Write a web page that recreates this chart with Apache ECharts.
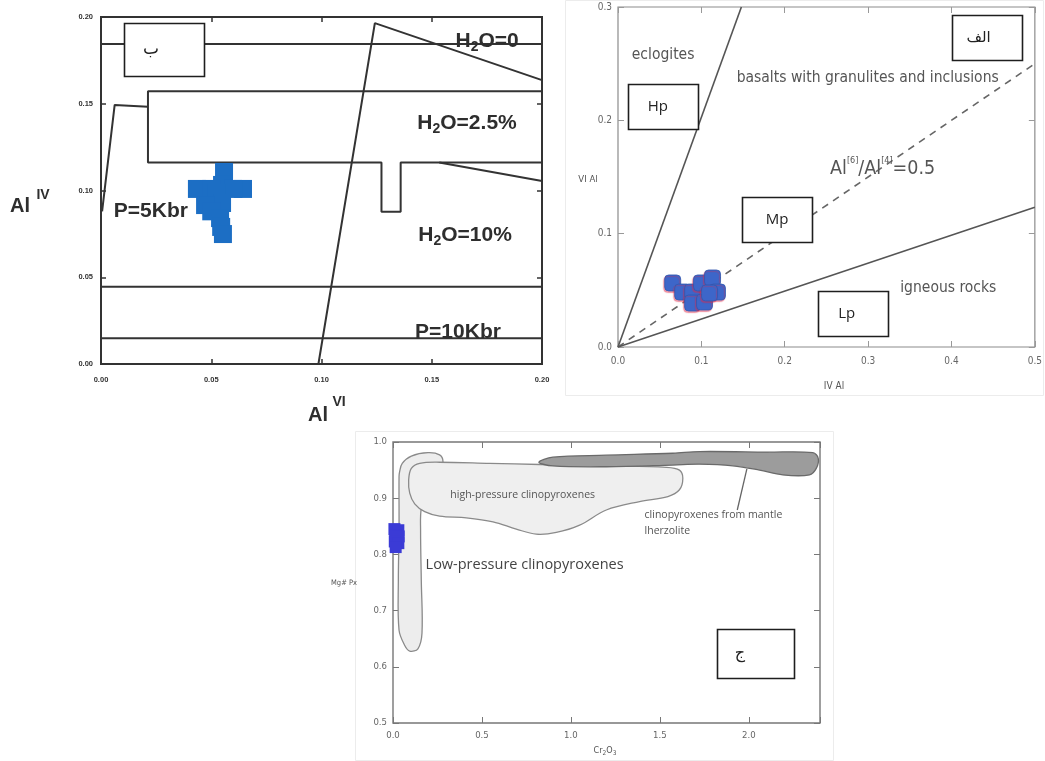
<!DOCTYPE html>
<html>
<head>
<meta charset="utf-8">
<script src="https://cdn.jsdelivr.net/npm/echarts@6/dist/echarts.min.js"></script>
<style>
  html, body { margin: 0; padding: 0; background: #fff; }
  #chart { width: 1045px; height: 761px; }
</style>
</head>
<body>
<div id="chart"></div>
<script>
// ---------- Panel ب : Al(IV) against Al(VI) ----------
const bTickLabels = ['0.00', '0.05', '0.10', '0.15', '0.20'];
const bSamples = [
  [0.0558, 0.1107], [0.0549, 0.1032], [0.0435, 0.1009], [0.0644, 0.1009],
  [0.0500, 0.1009], [0.0600, 0.1009], [0.0522, 0.0986], [0.0549, 0.0928],
  [0.0472, 0.0916], [0.0500, 0.0880], [0.0540, 0.0841], [0.0545, 0.0790],
  [0.0553, 0.0749]
];
const bLineH2O0 = [[0, 0.1845], [0.2, 0.1845]];
const bLineWedge = [[0.0986, 0], [0.1242, 0.1965], [0.2, 0.1636]];
const bLineBox25 = [[0.2, 0.1572], [0.0213, 0.1572], [0.0213, 0.1162], [0.1272, 0.1162],
  [0.1272, 0.0878], [0.1359, 0.0878], [0.1359, 0.1162], [0.2, 0.1162]];
const bLineLeft = [[0.0005, 0.088], [0.0062, 0.1493], [0.0213, 0.1483]];
const bLineH2O10 = [[0.1534, 0.1162], [0.2, 0.1055]];
const bLineP10a = [[0, 0.0445], [0.2, 0.0445]];
const bLineP10b = [[0, 0.0148], [0.2, 0.0148]];
const bNotes = [
  { at: [0.1751, 0.1860], text: '{m|H}{s|2}{m|O=0}' },
  { at: [0.1660, 0.1390], text: '{m|H}{s|2}{m|O=2.5%}' },
  { at: [0.1651, 0.0741], text: '{m|H}{s|2}{m|O=10%}' },
  { at: [0.1619, 0.0182], text: '{m|P=10Kbr}' },
  { at: [0.0226, 0.0882], text: '{m|P=5Kbr}' }
];
const bBoxes = [{ at: [0.0286, 0.1813], text: 'ب', dx: -13 }];

// ---------- Panel الف : VI Al against IV Al ----------
const aTickLabelsX = ['0.0', '0.1', '0.2', '0.3', '0.4', '0.5'];
const aTickLabelsY = ['0.0', '0.1', '0.2', '0.3'];
const aSamples = [
  [0.0656, 0.0565], [0.0776, 0.0485], [0.0895, 0.0485], [0.1002, 0.0565],
  [0.1134, 0.0609], [0.1193, 0.0485], [0.0895, 0.0388], [0.1038, 0.0397],
  [0.1098, 0.0477]
];
const aLineEclogite = [[0, 0], [0.148, 0.3]];
const aLineRatio = [[0, 0], [0.5, 0.25]];
const aLineIgneous = [[0, 0], [0.5, 0.1233]];
const aNotes = [
  { at: [0.0541, 0.2577], text: 'eclogites' },
  { at: [0.2995, 0.2374], text: 'basalts with granulites and inclusions' },
  { at: [0.3174, 0.1567], text: '{m|Al}{p|[6]}{m|/Al}{p|[4]}{m|=0.5}' },
  { at: [0.3962, 0.0521], text: 'igneous rocks' }
];
const aBoxes = [
  { at: [0.4421, 0.2727], text: 'الف', dx: -8, ar: true },
  { at: [0.0537, 0.2123], text: 'Hp', dx: -5 },
  { at: [0.1909, 0.1121], text: 'Mp', dx: 0 },
  { at: [0.2816, 0.0296], text: 'Lp', dx: -6 }
];

// ---------- Panel ج : Mg# Px against Cr2O3 ----------
const cTickLabelsX = ['0.0', '0.5', '1.0', '1.5', '2.0'];
const cTickLabelsY = ['0.5', '0.6', '0.7', '0.8', '0.9', '1.0'];
const cSamples = [
  [0.008, 0.845], [0.030, 0.843], [0.012, 0.834], [0.032, 0.832],
  [0.010, 0.823], [0.030, 0.820], [0.015, 0.813]
];
const cLowPressure = [
  [0.034, 0.9385], [0.034, 0.843], [0.030, 0.754], [0.034, 0.665], [0.066, 0.638],
  [0.094, 0.628], [0.140, 0.632], [0.163, 0.660], [0.159, 0.754], [0.155, 0.843],
  [0.159, 0.882], [0.187, 0.903], [0.262, 0.956], [0.281, 0.965], [0.262, 0.977],
  [0.197, 0.981], [0.103, 0.975], [0.052, 0.962], [0.037, 0.947]
];
const cHighPressure = [
  [0.088, 0.9326], [0.103, 0.953], [0.150, 0.962], [0.262, 0.964], [0.543, 0.962],
  [0.824, 0.960], [1.199, 0.9575], [1.536, 0.955], [1.610, 0.950], [1.629, 0.9355],
  [1.610, 0.915], [1.545, 0.903], [1.386, 0.894], [1.199, 0.879], [1.049, 0.852],
  [0.918, 0.839], [0.805, 0.836], [0.693, 0.845], [0.562, 0.858], [0.412, 0.865],
  [0.262, 0.868], [0.178, 0.876], [0.122, 0.890], [0.094, 0.909]
];
const cMantle = [
  [0.820, 0.964], [0.899, 0.973], [1.199, 0.9765], [1.573, 0.980], [1.723, 0.983],
  [2.100, 0.982], [2.360, 0.981], [2.390, 0.971], [2.379, 0.953], [2.341, 0.9415],
  [2.191, 0.9415], [2.060, 0.950], [1.910, 0.9576], [1.723, 0.9606], [1.573, 0.959],
  [1.199, 0.956], [0.899, 0.9575]
];
const cLeader = [[1.989, 0.952], [1.935, 0.879]];
const cNotes = [
  { at: [0.729, 0.906], text: 'high-pressure clinopyroxenes', size: 10.5 },
  { at: [1.414, 0.855], text: 'clinopyroxenes from mantle\nlherzolite', size: 10.5, align: 'left' },
  { at: [0.183, 0.781], text: 'Low-pressure clinopyroxenes', size: 14.5, align: 'left', fill: '#444' }
];
const cBoxes = [{ at: [2.04, 0.623], text: 'ج', dx: -16 }];

// ---------- fonts and helpers ----------
const FONT_B = '"Liberation Sans", Arial, sans-serif';
const FONT_A = '"Liberation Sans Narrow", "DejaVu Sans Condensed", sans-serif';
const FONT_C = '"Open Sans", sans-serif';
const FONT_AR = '"DejaVu Sans", "Noto Sans", sans-serif';

function tickFormatter(labels, min, step) {
  return function (v) {
    const i = Math.round((v - min) / step);
    if (Math.abs(min + i * step - v) > 1e-9) return '';
    return labels[i] !== undefined ? labels[i] : '';
  };
}

function axisPair(dim, grid, min, max, step, labels, st) {
  const common = {
    gridIndex: grid, type: 'value', min: min, max: max, interval: step,
    splitLine: { show: false }, axisLine: { show: false, onZero: false },
    axisTick: { show: true, inside: true, length: st.tick, lineStyle: { color: st.color, width: st.tw } }
  };
  const labelled = Object.assign({}, common, {
    position: dim === 'x' ? 'bottom' : 'left',
    axisLabel: {
      show: true, margin: dim === 'x' ? st.xm : st.ym, fontSize: st.fs, fontWeight: st.fw,
      color: st.lc, fontFamily: st.ff, formatter: tickFormatter(labels, min, step),
      showMinLabel: true, showMaxLabel: true, hideOverlap: false
    }
  });
  const mirror = Object.assign({}, common, {
    position: dim === 'x' ? 'top' : 'right', axisLabel: { show: false }
  });
  return [labelled, mirror];
}

function lineSeries(ax, data, style) {
  return {
    type: 'line', xAxisIndex: ax, yAxisIndex: ax, data: data, symbol: 'none',
    silent: true, z: 3, lineStyle: style, emphasis: { disabled: true }
  };
}

function notesSeries(ax, notes, base) {
  return {
    type: 'custom', xAxisIndex: ax, yAxisIndex: ax, silent: true, z: 6,
    data: notes.map(n => n.at),
    renderItem: function (params, api) {
      const n = notes[params.dataIndex];
      const p = api.coord([api.value(0), api.value(1)]);
      const style = Object.assign({}, base, {
        text: n.text, align: n.align || 'center', verticalAlign: 'middle'
      });
      if (n.size) style.fontSize = n.size;
      if (n.fill) style.fill = n.fill;
      return { type: 'text', x: p[0], y: p[1], style: style };
    }
  };
}

function boxSeries(ax, boxes, size, base) {
  return {
    type: 'custom', xAxisIndex: ax, yAxisIndex: ax, silent: true, z: 7,
    data: boxes.map(b => b.at),
    renderItem: function (params, api) {
      const b = boxes[params.dataIndex];
      const p = api.coord([api.value(0), api.value(1)]);
      const st = Object.assign({}, base, { text: b.text, align: 'center', verticalAlign: 'middle' });
      if (b.ar) st.fontFamily = FONT_AR;
      return {
        type: 'group', children: [
          { type: 'rect', shape: { x: Math.round(p[0] - size[0] / 2) + 0.5, y: Math.round(p[1] - size[1] / 2) + 0.5, width: size[0], height: size[1] },
            style: { fill: '#fff', stroke: '#1e1e1e', lineWidth: 1.6 } },
          { type: 'text', x: p[0] + (b.dx || 0), y: p[1], style: st }
        ]
      };
    }
  };
}

function regionSeries(ax, regions) {
  return {
    type: 'custom', xAxisIndex: ax, yAxisIndex: ax, silent: true, z: 2,
    data: regions.map(r => r.pts[0]),
    renderItem: function (params, api) {
      const r = regions[params.dataIndex];
      return {
        type: 'polygon',
        shape: { points: r.pts.map(q => api.coord(q)), smooth: 0.35 },
        style: { fill: r.fill, stroke: r.stroke, lineWidth: 1.3 }
      };
    }
  };
}

const styleB = { tick: 5, color: '#333', tw: 1.5, xm: 12, ym: 8, fs: 7.5, fw: 'bold', lc: '#333', ff: FONT_B };
const styleA = { tick: 6, color: '#999', tw: 1, xm: 9, ym: 6, fs: 10, fw: 'normal', lc: '#666', ff: FONT_A };
const styleC = { tick: 6, color: '#777', tw: 1, xm: 8, ym: 6, fs: 9.5, fw: 'normal', lc: '#666', ff: FONT_A };

const xAxes = [].concat(
  axisPair('x', 0, 0, 0.2, 0.05, bTickLabels, styleB),
  axisPair('x', 1, 0, 0.5, 0.1, aTickLabelsX, styleA),
  axisPair('x', 2, 0, 2.4, 0.5, cTickLabelsX, styleC)
);
const yAxes = [].concat(
  axisPair('y', 0, 0, 0.2, 0.05, bTickLabels, styleB),
  axisPair('y', 1, 0, 0.3, 0.1, aTickLabelsY, styleA),
  axisPair('y', 2, 0.5, 1.0, 0.1, cTickLabelsY, styleC)
);

const richB = {
  m: { fontSize: 21, fontWeight: 'bold', fontFamily: FONT_B, fill: '#2e2e2e', lineHeight: 26 },
  s: { fontSize: 14, fontWeight: 'bold', fontFamily: FONT_B, fill: '#2e2e2e', lineHeight: 12, verticalAlign: 'bottom' }
};
const richA = {
  m: { fontSize: 19.5, fontFamily: FONT_A, fill: '#555', lineHeight: 26 },
  p: { fontSize: 9, fontFamily: FONT_A, fill: '#555', lineHeight: 10, verticalAlign: 'top' }
};

const series = [
  // ب
  lineSeries(0, bLineH2O0, { color: '#333', width: 2 }),
  lineSeries(0, bLineWedge, { color: '#333', width: 2 }),
  lineSeries(0, bLineBox25, { color: '#333', width: 2 }),
  lineSeries(0, bLineLeft, { color: '#333', width: 2 }),
  lineSeries(0, bLineH2O10, { color: '#333', width: 2 }),
  lineSeries(0, bLineP10a, { color: '#333', width: 2 }),
  lineSeries(0, bLineP10b, { color: '#333', width: 2 }),
  {
    type: 'scatter', xAxisIndex: 0, yAxisIndex: 0, data: bSamples, symbol: 'rect', symbolSize: 18,
    silent: true, z: 4, itemStyle: { color: '#1c6ec4', opacity: 1 }, emphasis: { disabled: true }
  },
  notesSeries(0, bNotes, { rich: richB, fontSize: 21, fontWeight: 'bold', fontFamily: FONT_B, fill: '#2e2e2e' }),
  boxSeries(0, bBoxes, [80, 53], { fontSize: 17, fontFamily: FONT_AR, fill: '#222' }),

  // الف
  lineSeries(2, aLineEclogite, { color: '#555', width: 1.6 }),
  lineSeries(2, aLineRatio, { color: '#666', width: 1.6, type: [7, 6] }),
  lineSeries(2, aLineIgneous, { color: '#555', width: 1.6 }),
  {
    type: 'scatter', xAxisIndex: 2, yAxisIndex: 2, data: aSamples, symbol: 'roundRect', symbolSize: 16,
    silent: true, z: 4, emphasis: { disabled: true },
    itemStyle: { color: '#3d66c9', opacity: 1, borderColor: '#3257ad', borderWidth: 0.8,
      shadowColor: 'rgba(225,40,70,0.45)', shadowOffsetX: -1, shadowOffsetY: 1.5, shadowBlur: 1 }
  },
  notesSeries(2, aNotes, { rich: richA, fontSize: 15.5, fontFamily: FONT_A, fill: '#555' }),
  boxSeries(2, aBoxes, [70, 45], { fontSize: 15, fontFamily: FONT_C, fill: '#222' }),

  // ج
  regionSeries(4, [
    { pts: cLowPressure, fill: '#ededed', stroke: '#8a8a8a' },
    { pts: cHighPressure, fill: '#efefef', stroke: '#8a8a8a' },
    { pts: cMantle, fill: '#9c9c9c', stroke: '#6a6a6a' }
  ]),
  lineSeries(4, cLeader, { color: '#666', width: 1.3 }),
  {
    type: 'scatter', xAxisIndex: 4, yAxisIndex: 4, data: cSamples, symbol: 'rect', symbolSize: 12,
    silent: true, z: 4, itemStyle: { color: '#3b3bd6', opacity: 1 }, emphasis: { disabled: true }
  },
  notesSeries(4, cNotes, { fontSize: 10.5, fontFamily: FONT_C, fill: '#555', lineHeight: 16 }),
  boxSeries(4, cBoxes, [77, 49], { fontSize: 16, fontFamily: FONT_AR, fill: '#222' })
];

const option = {
  animation: false,
  backgroundColor: '#fff',
  grid: [
    { left: 101, top: 17, width: 441, height: 347, show: true, borderColor: '#333', borderWidth: 2, backgroundColor: 'transparent' },
    { left: 618, top: 7, width: 419, height: 340, show: true, borderColor: '#8c8c8c', borderWidth: 1.2, backgroundColor: 'transparent' },
    { left: 393, top: 442, width: 427, height: 281, show: true, borderColor: '#777', borderWidth: 1.4, backgroundColor: 'transparent' }
  ],
  xAxis: xAxes,
  yAxis: yAxes,
  series: series,
  graphic: [
    // faint frames of the three sub-figures
    { type: 'rect', z: -1, shape: { x: 565.5, y: 0.5, width: 478, height: 395 }, style: { fill: 'none', stroke: '#ececec', lineWidth: 1 } },
    { type: 'rect', z: -1, shape: { x: 355.5, y: 431.5, width: 478, height: 329 }, style: { fill: 'none', stroke: '#ececec', lineWidth: 1 } },
    // axis titles, panel ب
    { type: 'text', x: 20, y: 206, style: { text: 'Al', fontSize: 20, fontWeight: 'bold', fontFamily: FONT_B, fill: '#2e2e2e', align: 'center', verticalAlign: 'middle' } },
    { type: 'text', x: 43, y: 195, style: { text: 'IV', fontSize: 14, fontWeight: 'bold', fontFamily: FONT_B, fill: '#2e2e2e', align: 'center', verticalAlign: 'middle' } },
    { type: 'text', x: 318, y: 415, style: { text: 'Al', fontSize: 20, fontWeight: 'bold', fontFamily: FONT_B, fill: '#2e2e2e', align: 'center', verticalAlign: 'middle' } },
    { type: 'text', x: 339, y: 402, style: { text: 'VI', fontSize: 14, fontWeight: 'bold', fontFamily: FONT_B, fill: '#2e2e2e', align: 'center', verticalAlign: 'middle' } },
    // axis titles, panel الف
    { type: 'text', x: 588, y: 180, style: { text: 'VI Al', fontSize: 9.5, fontFamily: FONT_A, fill: '#555', align: 'center', verticalAlign: 'middle' } },
    { type: 'text', x: 834, y: 386, style: { text: 'IV Al', fontSize: 10, fontFamily: FONT_A, fill: '#555', align: 'center', verticalAlign: 'middle' } },
    // axis titles, panel ج
    { type: 'text', x: 344, y: 583, style: { text: 'Mg# Px', fontSize: 7.5, fontFamily: FONT_A, fill: '#555', align: 'center', verticalAlign: 'middle' } },
    { type: 'text', x: 605, y: 751, style: {
        text: '{m|Cr}{s|2}{m|O}{s|3}', align: 'center', verticalAlign: 'middle',
        rich: {
          m: { fontSize: 9, fontFamily: FONT_A, fill: '#555', lineHeight: 12 },
          s: { fontSize: 6.5, fontFamily: FONT_A, fill: '#555', lineHeight: 7, verticalAlign: 'bottom' }
        } } }
  ]
};

const chart = echarts.init(document.getElementById('chart'));
chart.setOption(option);
</script>
</body>
</html>
